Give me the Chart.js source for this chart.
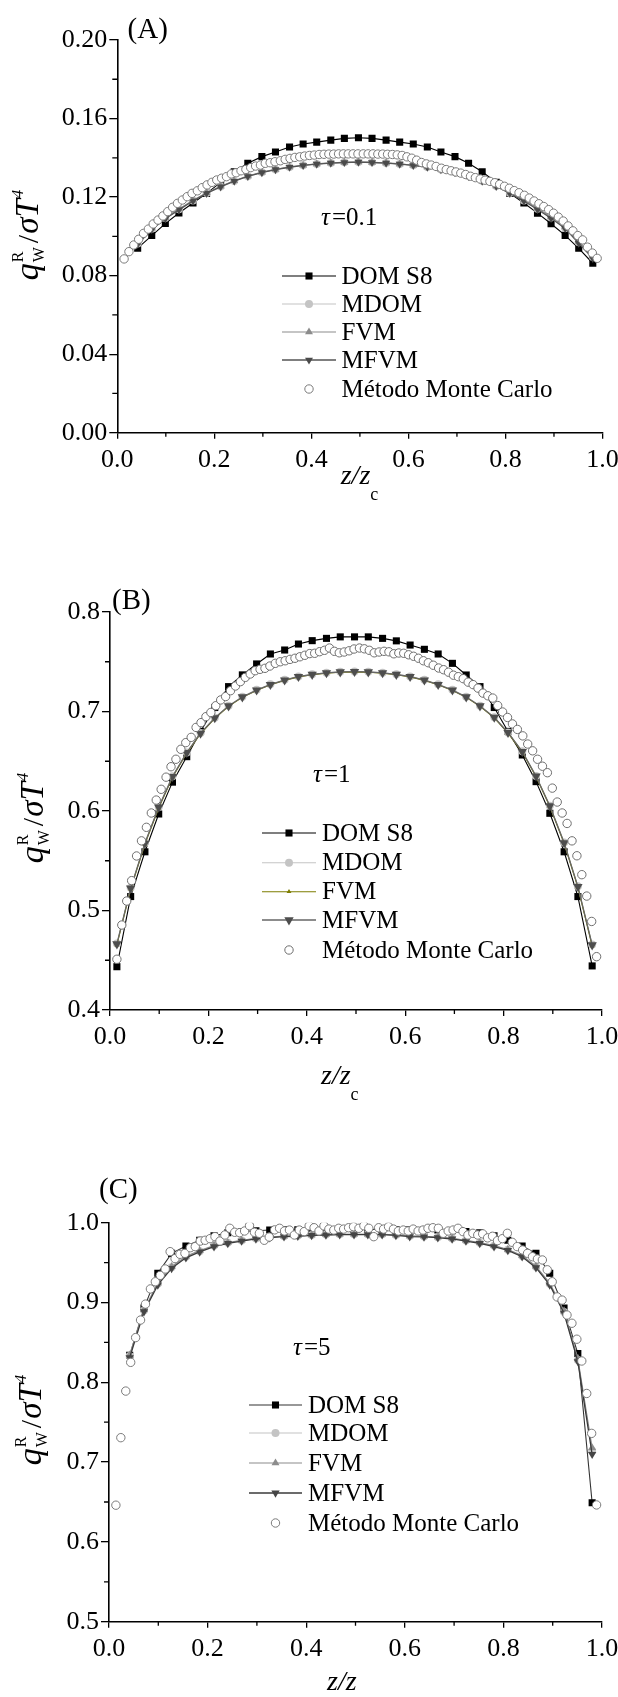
<!DOCTYPE html>
<html>
<head>
<meta charset="utf-8">
<script src="https://cdn.jsdelivr.net/npm/chart.js"></script>
<style>
  html, body { margin: 0; padding: 0; background: #fff; }
  body { width: 618px; height: 1697px; position: relative; overflow: hidden; }
  canvas { position: absolute; left: 0; }
</style>
</head>
<body>
<canvas id="chartA" width="618" height="565" style="top:0px"></canvas>
<canvas id="chartB" width="618" height="565" style="top:565px"></canvas>
<canvas id="chartC" width="618" height="567" style="top:1130px"></canvas>
<script>
// z/zc positions of the model solutions (35 cells) and of the Monte Carlo samples
const zModel = [0.014, 0.042, 0.071, 0.099, 0.127, 0.156, 0.184, 0.213, 0.241, 0.269, 0.298, 0.326, 0.355, 0.383, 0.411, 0.440, 0.468, 0.497,
  0.525, 0.554, 0.582, 0.610, 0.639, 0.667, 0.696, 0.724, 0.752, 0.781, 0.809, 0.838, 0.866, 0.894, 0.923, 0.951, 0.980];
const zMC = [0.014, 0.024, 0.034, 0.044, 0.054, 0.064, 0.074, 0.084, 0.094, 0.104, 0.114, 0.124, 0.134, 0.144, 0.154, 0.165, 0.175, 0.185, 0.195, 0.205,
  0.215, 0.225, 0.235, 0.245, 0.255, 0.265, 0.275, 0.285, 0.295, 0.305, 0.315, 0.325, 0.336, 0.346, 0.356, 0.366, 0.376, 0.386, 0.396, 0.406,
  0.416, 0.426, 0.436, 0.446, 0.456, 0.466, 0.476, 0.486, 0.496, 0.507, 0.517, 0.527, 0.537, 0.547, 0.557, 0.567, 0.577, 0.587, 0.597, 0.607,
  0.617, 0.627, 0.637, 0.647, 0.657, 0.668, 0.678, 0.688, 0.698, 0.708, 0.718, 0.728, 0.738, 0.748, 0.758, 0.768, 0.778, 0.788, 0.798, 0.808,
  0.818, 0.828, 0.839, 0.849, 0.859, 0.869, 0.879, 0.889, 0.899, 0.909, 0.919, 0.929, 0.939, 0.949, 0.959, 0.969, 0.979, 0.989];

const seriesNames = ['DOM S8', 'MDOM', 'FVM', 'MFVM', 'Método Monte Carlo'];
const panelLabels = ['(A)', '(B)', '(C)'];
const tauValues = ['0.1', '1', '5'];

// (A) tau = 0.1
const domA = [null, 0.094, 0.1004, 0.1065, 0.1119, 0.117, 0.1219, 0.1275, 0.1329, 0.1372, 0.1406, 0.143, 0.1455, 0.147, 0.148, 0.149, 0.1499, 0.1502,
  0.1499, 0.149, 0.148, 0.147, 0.1455, 0.143, 0.1406, 0.1372, 0.1329, 0.1275, 0.1219, 0.117, 0.1118, 0.1064, 0.1005, 0.0939, 0.0863];
const mdomA = [null, 0.0964, 0.1039, 0.1093, 0.1138, 0.1182, 0.1221, 0.1254, 0.1282, 0.1306, 0.1326, 0.1341, 0.1353, 0.1362, 0.1369, 0.1374, 0.1377, 0.1379,
  0.1377, 0.1374, 0.1369, 0.1362, 0.1353, 0.1341, 0.1326, 0.1306, 0.1283, 0.1256, 0.1221, 0.1183, 0.114, 0.1096, 0.1044, 0.097, 0.0895];
const fvmA = [null, 0.0968, 0.1042, 0.1096, 0.114, 0.1184, 0.1222, 0.1255, 0.1283, 0.1307, 0.1327, 0.1341, 0.1353, 0.1362, 0.1369, 0.1374, 0.1377, 0.1379,
  0.1377, 0.1374, 0.1369, 0.1362, 0.1353, 0.1341, 0.1327, 0.1307, 0.1284, 0.1257, 0.1223, 0.1186, 0.1143, 0.1099, 0.1048, 0.0975, 0.09];
const mfvmA = [null, 0.096, 0.1035, 0.109, 0.1135, 0.118, 0.1219, 0.1252, 0.1281, 0.1305, 0.1325, 0.134, 0.1352, 0.1361, 0.1368, 0.1373, 0.1376, 0.1378,
  0.1376, 0.1373, 0.1368, 0.1361, 0.1352, 0.134, 0.1325, 0.1305, 0.1281, 0.1254, 0.1219, 0.118, 0.1137, 0.1092, 0.104, 0.0965, 0.0888];
const mcA = [0.0885, 0.0922, 0.0956, 0.0985, 0.1015, 0.1037, 0.1063, 0.1083, 0.1104, 0.1126, 0.1148, 0.1168, 0.1185, 0.1202, 0.1219, 0.1232, 0.1248, 0.1262,
  0.1275, 0.1287, 0.1296, 0.1304, 0.1318, 0.1324, 0.1334, 0.1341, 0.135, 0.1358, 0.1363, 0.1372, 0.1375, 0.138, 0.1385, 0.1392, 0.1397, 0.1402, 0.1405,
  0.1409, 0.1412, 0.1414, 0.1417, 0.1418, 0.1419, 0.1419, 0.142, 0.142, 0.142, 0.142, 0.142, 0.142, 0.142, 0.142, 0.1419, 0.1419, 0.1418, 0.1417, 0.1415,
  0.1412, 0.1405, 0.1398, 0.1388, 0.1376, 0.1369, 0.1363, 0.1356, 0.1347, 0.134, 0.1334, 0.1328, 0.1322, 0.1315, 0.1306, 0.1299, 0.1292, 0.1286, 0.128,
  0.1273, 0.1265, 0.1255, 0.1245, 0.1233, 0.1222, 0.1209, 0.1195, 0.118, 0.1166, 0.1152, 0.1136, 0.1118, 0.1098, 0.1078, 0.1053, 0.1028, 0.1004, 0.0982,
  0.0945, 0.0915, 0.0888];

// (B) tau = 1
const domB = [0.4435, 0.514, 0.559, 0.597, 0.629, 0.6546, 0.68, 0.704, 0.725, 0.7368, 0.7478, 0.7578, 0.7618, 0.7678, 0.7712, 0.7735, 0.775, 0.775,
  0.775, 0.7735, 0.771, 0.7668, 0.7625, 0.7578, 0.7484, 0.7367, 0.725, 0.704, 0.68, 0.6563, 0.6295, 0.5977, 0.559, 0.514, 0.4443];
const mdomB = [0.4668, 0.5228, 0.568, 0.604, 0.6348, 0.6589, 0.6783, 0.6938, 0.7058, 0.7148, 0.7218, 0.7273, 0.7318, 0.7353, 0.7375, 0.739, 0.74, 0.7402,
  0.74, 0.739, 0.7375, 0.7353, 0.7318, 0.7273, 0.7218, 0.7148, 0.7058, 0.6943, 0.679, 0.66, 0.6353, 0.6053, 0.5683, 0.5243, 0.4658];
const fvmB = [0.4655, 0.5215, 0.5668, 0.603, 0.634, 0.6582, 0.6776, 0.6932, 0.7052, 0.7142, 0.7212, 0.7268, 0.7313, 0.7348, 0.737, 0.7386, 0.7395, 0.7398,
  0.7395, 0.7386, 0.737, 0.7348, 0.7313, 0.7268, 0.7212, 0.7142, 0.7052, 0.6937, 0.6783, 0.6592, 0.6345, 0.6045, 0.5675, 0.5233, 0.4645];
const mfvmB = [0.4663, 0.5223, 0.5675, 0.6037, 0.6345, 0.6586, 0.678, 0.6935, 0.7055, 0.7145, 0.7215, 0.727, 0.7315, 0.735, 0.7372, 0.7388, 0.7397, 0.74,
  0.7397, 0.7388, 0.7372, 0.735, 0.7315, 0.727, 0.7215, 0.7145, 0.7055, 0.694, 0.6787, 0.6596, 0.635, 0.605, 0.568, 0.524, 0.4653];
const mcB = [0.451, 0.4854, 0.5095, 0.530, 0.5548, 0.570, 0.5836, 0.598, 0.611, 0.6218,
  0.634, 0.6445, 0.652, 0.662, 0.6687, 0.674, 0.684, 0.6888, 0.6948, 0.699,
  0.7058, 0.7116, 0.715, 0.7209, 0.7256, 0.730, 0.7343, 0.7377, 0.741, 0.7424,
  0.7434, 0.7457, 0.7484, 0.750, 0.751, 0.7524, 0.7535, 0.755, 0.7565, 0.7582,
  0.7585, 0.7601, 0.7615, 0.7638, 0.7605, 0.759, 0.7598, 0.761, 0.7628, 0.7638,
  0.763, 0.7615, 0.759, 0.7598, 0.7605, 0.760, 0.758, 0.7588, 0.7585, 0.757,
  0.7555, 0.7535, 0.751, 0.749, 0.7465, 0.7437, 0.742, 0.7395, 0.7365, 0.735,
  0.733, 0.7295, 0.727, 0.7235, 0.7185, 0.7158, 0.7135, 0.706, 0.6995, 0.694,
  0.6875, 0.682, 0.6755, 0.6673, 0.6605, 0.652, 0.645, 0.6385, 0.623, 0.609,
  0.598, 0.5875, 0.570, 0.555, 0.536, 0.5145, 0.489, 0.4536];

// (C) tau = 5
const domC = [null, 0.834, 0.893, 0.9366, 0.9616, 0.9708, 0.978, 0.9835, 0.9875, 0.989, 0.99, 0.9908, 0.991, 0.9912, 0.9914, 0.9915, 0.9916, 0.9916,
  0.9916, 0.9915, 0.9914, 0.9912, 0.991, 0.9908, 0.99, 0.989, 0.9875, 0.9835, 0.978, 0.9708, 0.9616, 0.9366, 0.893, 0.836, 0.649];
const mdomC = [null, 0.833, 0.89, 0.9235, 0.9442, 0.9572, 0.9643, 0.971, 0.9748, 0.9777, 0.9802, 0.9818, 0.983, 0.9836, 0.9845, 0.9851, 0.9854, 0.9855,
  0.9855, 0.9854, 0.9846, 0.9833, 0.9828, 0.9818, 0.9802, 0.9777, 0.9748, 0.971, 0.966, 0.9582, 0.9447, 0.9235, 0.888, 0.828, 0.714];
const fvmC = [null, 0.834, 0.891, 0.9245, 0.945, 0.958, 0.965, 0.9715, 0.9752, 0.978, 0.9805, 0.982, 0.9832, 0.9838, 0.9846, 0.9852, 0.9855, 0.9856,
  0.9856, 0.9855, 0.9848, 0.9835, 0.983, 0.982, 0.9805, 0.978, 0.9752, 0.9715, 0.9665, 0.959, 0.9455, 0.9245, 0.8895, 0.83, 0.718];
const mfvmC = [null, 0.831, 0.8885, 0.922, 0.9428, 0.956, 0.9635, 0.970, 0.974, 0.977, 0.9796, 0.9812, 0.9825, 0.983, 0.984, 0.9846, 0.985, 0.985,
  0.985, 0.985, 0.984, 0.9825, 0.9822, 0.9812, 0.9796, 0.977, 0.974, 0.970, 0.9652, 0.9574, 0.9436, 0.922, 0.8865, 0.826, 0.7098];
const mcC = [0.646, 0.7306, 0.789, 0.825, 0.856, 0.878, 0.898, 0.917, 0.926, 0.934,
  0.942, 0.9637, 0.955, 0.9604, 0.9616, 0.9687, 0.970, 0.977, 0.978, 0.980,
  0.9825, 0.977, 0.9846, 0.993, 0.988, 0.9875, 0.9896, 0.9962, 0.988, 0.9867,
  0.978, 0.982, 0.991, 0.993, 0.9896, 0.9908, 0.9846, 0.9908, 0.9888, 0.996,
  0.9937, 0.9896, 0.996, 0.992, 0.9908, 0.993, 0.992, 0.9937, 0.995, 0.993,
  0.9962, 0.993, 0.9825, 0.9937, 0.992, 0.995, 0.992, 0.9896, 0.9908, 0.9896,
  0.992, 0.9896, 0.9908, 0.993, 0.9937, 0.993, 0.9867, 0.9896, 0.9908, 0.993,
  0.9888, 0.9846, 0.9867, 0.9846, 0.986, 0.981, 0.983, 0.9775, 0.980, 0.9867,
  0.9754, 0.970, 0.9658, 0.9616, 0.9574, 0.9545, 0.9533, 0.941, 0.926, 0.907,
  0.903, 0.8843, 0.874, 0.854, 0.8267, 0.786, 0.736, 0.6463];

const SERIF = "'Liberation Serif', 'Times New Roman', serif";
function font(size, style) {
  return (style ? style + ' ' : '') + size + 'px ' + SERIF;
}

function drawParts(ctx, parts, x, y) {
  let cx = x;
  parts.forEach(p => {
    ctx.font = p.f;
    ctx.fillText(p.t, cx, y + (p.dy || 0));
    if (!p.stay) cx += ctx.measureText(p.t).width + (p.gap || 0);
  });
}
function partsWidth(ctx, parts) {
  let w = 0;
  parts.forEach(p => {
    ctx.font = p.f;
    if (!p.stay) w += ctx.measureText(p.t).width + (p.gap || 0);
  });
  return w;
}

// legend marker drawn the same way chart.js draws its points
function marker(ctx, ds, x, y) {
  const r = ds.pointRadius;
  ctx.save();
  ctx.fillStyle = ds.pointBackgroundColor;
  ctx.strokeStyle = ds.pointBorderColor;
  ctx.lineWidth = ds.pointBorderWidth;
  ctx.beginPath();
  if (ds.pointStyle === 'rect') {
    const s = r * Math.SQRT1_2;
    ctx.rect(x - s, y - s, 2 * s, 2 * s);
  } else if (ds.pointStyle === 'triangle') {
    let a = (ds.pointRotation || 0) * Math.PI / 180;
    ctx.moveTo(x + Math.sin(a) * r, y - Math.cos(a) * r);
    a += 2 * Math.PI / 3;
    ctx.lineTo(x + Math.sin(a) * r, y - Math.cos(a) * r);
    a += 2 * Math.PI / 3;
    ctx.lineTo(x + Math.sin(a) * r, y - Math.cos(a) * r);
    ctx.closePath();
  } else {
    ctx.arc(x, y, r, 0, Math.PI * 2);
  }
  ctx.fill();
  if (ds.pointBorderWidth) ctx.stroke();
  ctx.restore();
}

const decor = {
  id: 'decor',
  afterDraw(chart, args, o) {
    const ctx = chart.ctx;
    const area = chart.chartArea;
    const xs = chart.scales.x, ys = chart.scales.y;
    ctx.save();

    // minor ticks halfway between the major ones
    ctx.strokeStyle = '#000';
    ctx.lineWidth = 1.3;
    ctx.beginPath();
    for (let i = 0; i < xs.ticks.length - 1; i++) {
      const px = xs.getPixelForValue((xs.ticks[i].value + xs.ticks[i + 1].value) / 2);
      ctx.moveTo(px, area.bottom);
      ctx.lineTo(px, area.bottom + 4);
    }
    for (let i = 0; i < ys.ticks.length - 1; i++) {
      const py = ys.getPixelForValue((ys.ticks[i].value + ys.ticks[i + 1].value) / 2);
      ctx.moveTo(area.left - 5, py);
      ctx.lineTo(area.left, py);
    }
    ctx.stroke();

    ctx.fillStyle = '#000';
    ctx.textAlign = 'left';
    ctx.textBaseline = 'alphabetic';

    // panel letter
    ctx.font = font(29);
    ctx.fillText(o.label.text, o.label.x, o.label.y);

    // tau annotation
    drawParts(ctx, [
      { t: 'τ', f: font(25, 'italic'), gap: 2 },
      { t: '=' + o.tau.text, f: font(25) }
    ], o.tau.x, o.tau.y);

    // x title  z/z_c
    drawParts(ctx, [
      { t: 'z/z', f: font(28, 'italic') },
      { t: 'c', f: font(18), dy: 16 }
    ], o.xtitle.x, o.xtitle.y);

    // y title  q_W^R / sigma T^4 (rotated)
    ctx.save();
    ctx.translate(o.ytitle.x, o.ytitle.y);
    ctx.rotate(-Math.PI / 2);
    const yParts = [
      { t: 'q', f: font(34, 'italic'), gap: 1 },
      { t: 'R', f: font(16), dy: -15, stay: true },
      { t: 'W', f: font(16), dy: 6, gap: 4 },
      { t: '/', f: font(30), gap: 1 },
      { t: 'σT', f: font(33, 'italic'), gap: 1 },
      { t: '4', f: font(17, 'italic'), dy: -15 }
    ];
    drawParts(ctx, yParts, -partsWidth(ctx, yParts) / 2, 0);
    ctx.restore();

    // legend
    const lg = o.legend;
    chart.data.datasets.forEach((ds, i) => {
      const y = lg.rows[i];
      if (ds.showLine) {
        ctx.strokeStyle = ds.borderColor;
        ctx.lineWidth = ds.borderWidth;
        ctx.beginPath();
        ctx.moveTo(lg.x1, y);
        ctx.lineTo(lg.x2, y);
        ctx.stroke();
      }
      marker(ctx, ds, (lg.x1 + lg.x2) / 2, y);
      ctx.fillStyle = '#000';
      ctx.font = font(25);
      ctx.textBaseline = 'middle';
      ctx.fillText(ds.label, lg.tx, y + 1);
      ctx.textBaseline = 'alphabetic';
    });
    ctx.restore();
  }
};

function pts(xs, ys) {
  return xs.map((x, i) => ({ x: x, y: ys[i] }));
}

function makeSets(dom, mdom, fvm, mfvm, mc, st) {
  const line = { showLine: true, fill: false, tension: 0, spanGaps: false };
  return [
    Object.assign({ label: seriesNames[0], data: pts(zModel, dom), order: 4,
      borderColor: st.dom, borderWidth: 1.1, pointStyle: 'rect', pointRadius: 5,
      pointBackgroundColor: '#000', pointBorderColor: '#000', pointBorderWidth: 0 }, line),
    Object.assign({ label: seriesNames[1], data: pts(zModel, mdom), order: 3,
      borderColor: st.mdom, borderWidth: 1.1, pointStyle: 'circle', pointRadius: 4,
      pointBackgroundColor: st.mdom, pointBorderColor: st.mdom, pointBorderWidth: 0 }, line),
    Object.assign({ label: seriesNames[2], data: pts(zModel, fvm), order: 2,
      borderColor: st.fvm, borderWidth: 1.1, pointStyle: 'triangle', pointRadius: st.fvmR,
      pointBackgroundColor: st.fvm, pointBorderColor: st.fvm, pointBorderWidth: 0 }, line),
    Object.assign({ label: seriesNames[3], data: pts(zModel, mfvm), order: 1,
      borderColor: st.mfvmLine, borderWidth: 1.3, pointStyle: 'triangle', pointRotation: 180, pointRadius: st.mfvmR,
      pointBackgroundColor: st.mfvm, pointBorderColor: st.mfvm, pointBorderWidth: 0 }, line),
    { label: seriesNames[4], data: pts(zMC, mc), order: 0, showLine: false,
      pointStyle: 'circle', pointRadius: 4.2, pointBackgroundColor: '#fff',
      pointBorderColor: st.mc, pointBorderWidth: 1 }
  ];
}

function panel(id, sets, o) {
  const tickFont = { family: SERIF, size: 26 };
  return new Chart(document.getElementById(id), {
    type: 'scatter',
    data: { datasets: sets },
    options: {
      responsive: false,
      animation: false,
      events: [],
      layout: { padding: o.pad },
      plugins: { legend: { display: false }, tooltip: { enabled: false }, decor: o.decor },
      scales: {
        x: {
          type: 'linear', min: 0, max: 1,
          ticks: { stepSize: 0.2, callback: v => v.toFixed(1), font: tickFont, color: '#000', padding: 6, maxRotation: 0, autoSkip: false },
          grid: { drawOnChartArea: false, tickLength: 6, color: '#000', lineWidth: 1.3 },
          border: { color: '#000', width: 1.6 },
          afterFit(s) { s.height = 50; s.paddingLeft = 0; s.paddingRight = 0; }
        },
        y: {
          type: 'linear', min: o.yMin, max: o.yMax,
          ticks: { stepSize: o.yStep, callback: v => v.toFixed(o.yDec), font: tickFont, color: '#000', padding: 2, autoSkip: false },
          grid: { drawOnChartArea: false, tickLength: 8, color: '#000', lineWidth: 1.3 },
          border: { color: '#000', width: 1.6 },
          afterFit(s) { s.width = o.yWidth; s.paddingTop = 0; s.paddingBottom = 0; }
        }
      }
    },
    plugins: [decor]
  });
}

Chart.defaults.font.family = SERIF;

panel('chartA',
  makeSets(domA, mdomA, fvmA, mfvmA, mcA,
    { dom: '#000', mdom: '#c4c4c4', fvm: '#8c8c8c', fvmR: 4.6, mfvm: '#4a4a4a', mfvmLine: '#555', mfvmR: 4.6, mc: '#7a7a7a' }),
  { yMin: 0, yMax: 0.2, yStep: 0.04, yDec: 2, yWidth: 117.3,
    pad: { left: 0, top: 40, right: 15.5, bottom: 82.3 },
    decor: {
      label: { text: panelLabels[0], x: 127.6, y: 38 },
      tau: { text: tauValues[0], x: 321, y: 225 },
      xtitle: { x: 340.7, y: 484 },
      ytitle: { x: 38, y: 235 },
      legend: { x1: 282, x2: 336, tx: 341.5, rows: [276, 304, 332, 360, 389] }
    } });

panel('chartB',
  makeSets(domB, mdomB, fvmB, mfvmB, mcB,
    { dom: '#000', mdom: '#c4c4c4', fvm: '#7d7d00', fvmR: 2.8, mfvm: '#4d4d4d', mfvmLine: '#666', mfvmR: 5.4, mc: '#6e6e6e' }),
  { yMin: 0.4, yMax: 0.8, yStep: 0.1, yDec: 1, yWidth: 110,
    pad: { left: 0, top: 47, right: 16, bottom: 70 },
    decor: {
      label: { text: panelLabels[1], x: 112, y: 44 },
      tau: { text: tauValues[1], x: 313, y: 217 },
      xtitle: { x: 321, y: 519 },
      ytitle: { x: 43, y: 253 },
      legend: { x1: 262, x2: 316, tx: 322, rows: [268, 297.7, 326.7, 355, 385] }
    } });

panel('chartC',
  makeSets(domC, mdomC, fvmC, mfvmC, mcC,
    { dom: '#333', mdom: '#c4c4c4', fvm: '#8c8c8c', fvmR: 4.6, mfvm: '#454545', mfvmLine: '#3a3a3a', mfvmR: 4.8, mc: '#7a7a7a' }),
  { yMin: 0.5, yMax: 1.0, yStep: 0.1, yDec: 1, yWidth: 109,
    pad: { left: 0, top: 92.7, right: 16, bottom: 25.3 },
    decor: {
      label: { text: panelLabels[2], x: 99, y: 68 },
      tau: { text: tauValues[2], x: 293, y: 225 },
      xtitle: { x: 327, y: 560 },
      ytitle: { x: 41, y: 290 },
      legend: { x1: 249, x2: 302, tx: 308, rows: [275, 303, 333, 363, 393] }
    } });
</script>
</body>
</html>
